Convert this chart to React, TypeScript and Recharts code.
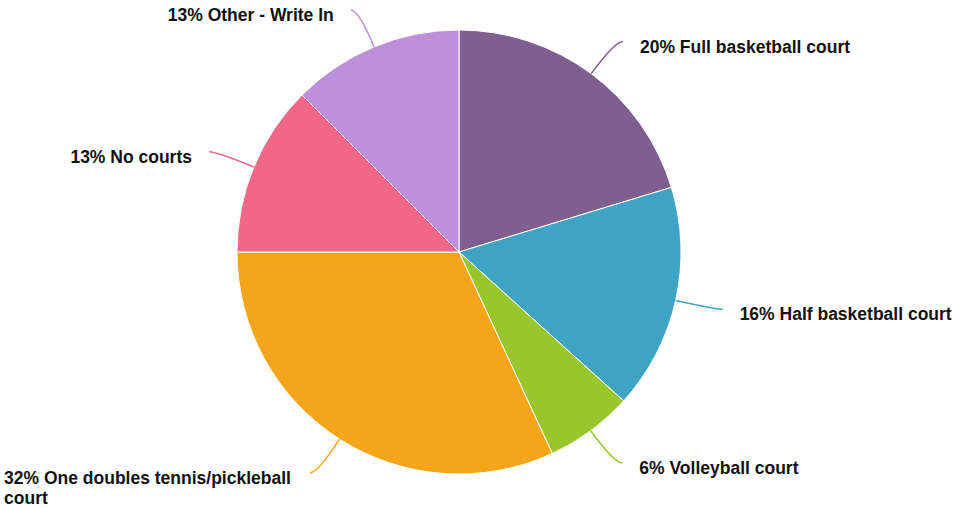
import { PieChart, Pie, Cell } from 'recharts'

const names = [
  'Full basketball court',
  'Half basketball court',
  'Volleyball court',
  'One doubles tennis/pickleball court',
  'No courts',
  'Other - Write In',
]
const values = [20.3, 16.4, 6.4, 31.9, 12.5, 12.5]
const shownPct = [20, 16, 6, 32, 13, 13]
const colors = ['#7e5f8f', '#3fa3c4', '#97c72a', '#f5a51a', '#f06788', '#be8fda']

const data = names.map((name, i) => ({ name, value: values[i] }))

const W = 953
const H = 508
const FONT = 'bold 17.5px "Liberation Sans", Arial, sans-serif'
const RAD = Math.PI / 180

let ctx: CanvasRenderingContext2D | null = null
const measure = (s: string) => {
  if (!ctx) ctx = document.createElement('canvas').getContext('2d')
  if (!ctx) return s.length * 9
  ctx.font = FONT
  return ctx.measureText(s).width
}

// wrap words into lines that fit the room left for the label
const wrap = (text: string, room: number) => {
  const words = text.split(' ')
  const lines: string[] = []
  let cur = ''
  for (const w of words) {
    const next = cur ? cur + ' ' + w : w
    if (cur && measure(next) > room) {
      lines.push(cur)
      cur = w
    } else cur = next
  }
  if (cur) lines.push(cur)
  return lines
}

const renderLabel = (props: any) => {
  const { cx, cy, midAngle, outerRadius, index } = props
  const cos = Math.cos(-midAngle * RAD)
  const sin = Math.sin(-midAngle * RAD)
  const right = cos >= 0
  const sx = cx + outerRadius * cos
  const sy = cy + outerRadius * sin
  const mx = cx + outerRadius * 1.18 * cos
  const my = cy + outerRadius * 1.18 * sin
  const ex = mx + (right ? 8 : -8)
  const ey = my
  const text = `${shownPct[index]}% ${names[index]}`
  const tx = ex + (right ? 17 : -17)
  let lines = [text]
  let anchor: 'start' | 'end' = right ? 'start' : 'end'
  let x = tx
  if (!right) {
    const room = tx + 4
    if (measure(text) > room) {
      lines = wrap(text, room)
      const widest = Math.max(...lines.map(measure))
      x = tx - widest - 2
      anchor = 'start'
    }
  }
  return (
    <g>
      <path
        d={`M${sx},${sy} Q${mx},${my} ${ex},${ey}`}
        stroke={colors[index]}
        strokeWidth={1.5}
        fill="none"
      />
      <text
        x={x}
        y={ey + 5}
        textAnchor={anchor}
        dominantBaseline="central"
        fill="#111"
        style={{ font: FONT }}
      >
        {lines.map((l, i) => (
          <tspan key={i} x={x} dy={i === 0 ? 0 : 20}>
            {l}
          </tspan>
        ))}
      </text>
    </g>
  )
}

export default function App() {
  return (
    <div style={{ position: 'absolute', left: 0, top: 0, width: W, height: H, background: '#fff' }}>
      <PieChart width={W} height={H} margin={{ top: 0, right: 0, bottom: 0, left: 0 }}>
        <Pie
          data={data}
          dataKey="value"
          nameKey="name"
          cx={459}
          cy={252}
          outerRadius={222}
          startAngle={90}
          endAngle={-270}
          stroke="#fff"
          strokeWidth={1}
          label={renderLabel}
          labelLine={false}
          isAnimationActive={false}
        >
          {data.map((d, i) => (
            <Cell key={d.name} fill={colors[i]} />
          ))}
        </Pie>
      </PieChart>
    </div>
  )
}
